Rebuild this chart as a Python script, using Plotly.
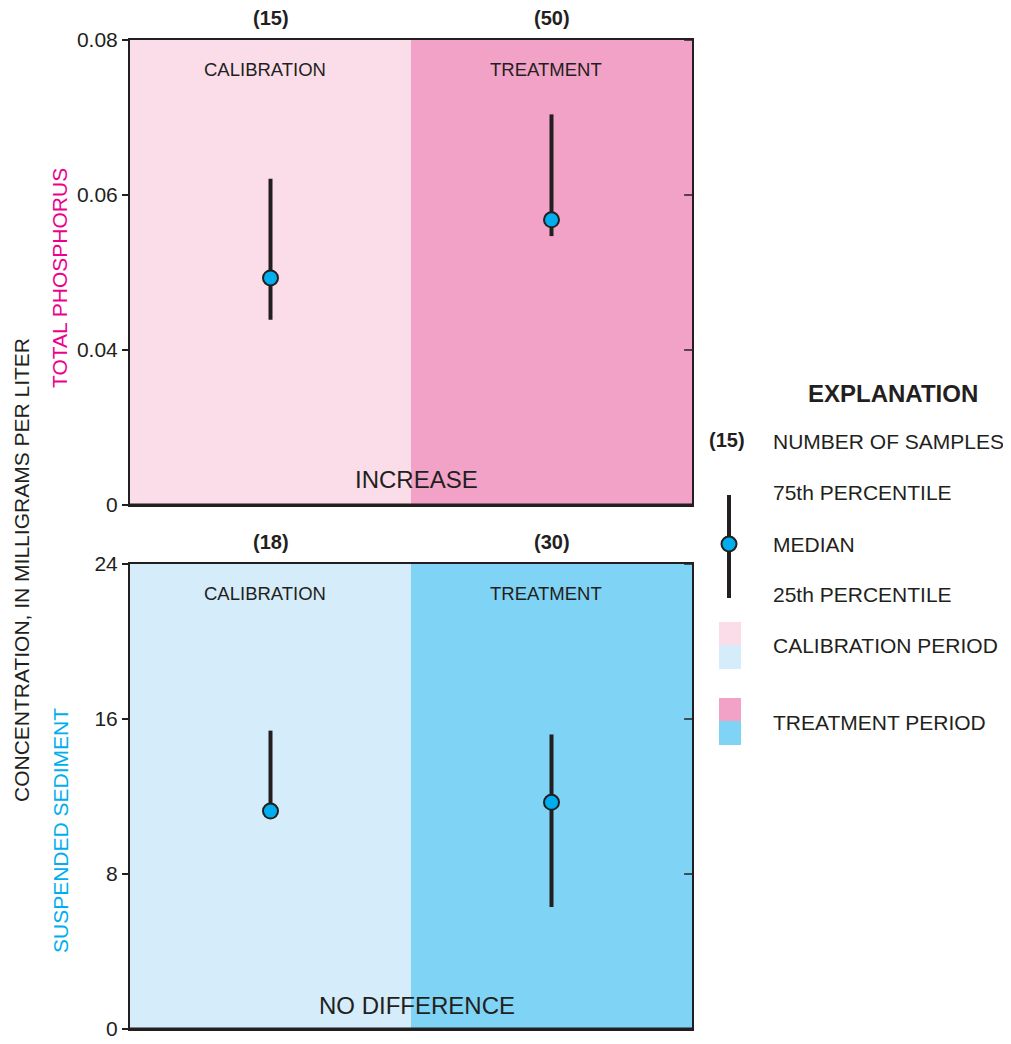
import plotly.graph_objects as go

# ---------------- data ----------------
periods = ["CALIBRATION", "TREATMENT"]
period_x = [0.25, 0.75]

tp_n = [15, 50]
tp_p25 = [0.0439, 0.0547]
tp_median = [0.0493, 0.0568]
tp_p75 = [0.0621, 0.0704]

ss_n = [18, 30]
ss_p25 = [11.25, 6.3]
ss_median = [11.25, 11.7]
ss_p75 = [15.4, 15.2]

tp_tickvals = [0.02, 0.04, 0.06, 0.08]
tp_ticktext = ["0", "0.04", "0.06", "0.08"]
ss_tickvals = [0, 8, 16, 24]
ss_ticktext = ["0", "8", "16", "24"]

tp_result = "INCREASE"
ss_result = "NO DIFFERENCE"

legend_items = ["NUMBER OF SAMPLES", "75th PERCENTILE", "MEDIAN", "25th PERCENTILE",
                "CALIBRATION PERIOD", "TREATMENT PERIOD"]

# ---------------- style ----------------
W, H = 1011, 1044
OFF = 8  # page body margin
DARK = "#231F20"
CYAN = "#00AEEF"
MAGENTA = "#EC008C"
PINK_L, PINK_D = "#FBDDEA", "#F2A2C7"
BLUE_L, BLUE_D = "#D5ECFA", "#7FD3F5"
FONT = "Liberation Sans, Arial, Helvetica, sans-serif"


def px_x(p):
    return (p - OFF) / W


def px_y(p):
    return 1 - (p - OFF) / H


xdom = [px_x(130), px_x(692)]
top_dom = [px_y(505), px_y(40)]
bot_dom = [px_y(1029), px_y(564)]

fig = go.Figure()


def add_panel(xa, ya, p25, med, p75):
    fig.add_trace(go.Scatter(
        x=period_x, y=med, xaxis=xa, yaxis=ya, mode="markers",
        marker=dict(size=15, color=CYAN, line=dict(width=2, color=DARK)),
        error_y=dict(type="data", symmetric=False,
                     array=[a - b for a, b in zip(p75, med)],
                     arrayminus=[b - c for b, c in zip(med, p25)],
                     thickness=4, width=0, color=DARK),
        showlegend=False, hoverinfo="y"))


add_panel("x", "y", tp_p25, tp_median, tp_p75)
add_panel("x2", "y2", ss_p25, ss_median, ss_p75)

axis_common = dict(showline=True, mirror=True, linecolor=DARK, linewidth=2,
                   showgrid=False, zeroline=False, automargin=False)

fig.update_layout(
    width=W, height=H,
    margin=dict(l=0, r=0, t=0, b=0, pad=0),
    paper_bgcolor="white", plot_bgcolor="white",
    font=dict(family=FONT, color=DARK, size=18),
    xaxis=dict(domain=xdom, range=[0, 1], anchor="y", showticklabels=False,
               ticks="", **axis_common),
    yaxis=dict(domain=top_dom, range=[0.02, 0.08], anchor="x",
               tickvals=tp_tickvals, ticktext=tp_ticktext, ticks="outside",
               ticklen=6, tickwidth=1.5, tickcolor=DARK,
               tickfont=dict(size=21, color=DARK), **axis_common),
    xaxis2=dict(domain=xdom, range=[0, 1], anchor="y2", showticklabels=False,
                ticks="", **axis_common),
    yaxis2=dict(domain=bot_dom, range=[0, 24], anchor="x2",
                tickvals=ss_tickvals, ticktext=ss_ticktext, ticks="outside",
                ticklen=6, tickwidth=1.5, tickcolor=DARK,
                tickfont=dict(size=21, color=DARK), **axis_common),
)

shapes = []
annotations = []

# period backgrounds
for xa, ya, cols in [("x", "y", (PINK_L, PINK_D)), ("x2", "y2", (BLUE_L, BLUE_D))]:
    shapes.append(dict(type="rect", xref=xa, yref=ya + " domain", x0=0, x1=0.5,
                       y0=0, y1=1, fillcolor=cols[0], line=dict(width=0), layer="below"))
    shapes.append(dict(type="rect", xref=xa, yref=ya + " domain", x0=0.5, x1=1,
                       y0=0, y1=1, fillcolor=cols[1], line=dict(width=0), layer="below"))

# inward ticks on the right side
for xa, ya, vals in [("x", "y", tp_tickvals), ("x2", "y2", ss_tickvals)]:
    for v in vals:
        shapes.append(dict(type="line", xref=xa + " domain", yref=ya,
                           x0=0.986, x1=1, y0=v, y1=v,
                           line=dict(color=DARK, width=1.5)))

# thicker bottom frame lines
for xa, ya in [("x", "y"), ("x2", "y2")]:
    shapes.append(dict(type="line", xref=xa + " domain", yref=ya + " domain",
                       x0=0, x1=1, y0=0, y1=0, line=dict(color=DARK, width=3)))

# sample counts and period labels
for xa, ya, ns in [("x", "y", tp_n), ("x2", "y2", ss_n)]:
    for xv, n, lab in zip(period_x, ns, periods):
        annotations.append(dict(x=xv, y=1, xref=xa, yref=ya + " domain",
                                text=f"<b>({n})</b>", showarrow=False,
                                yanchor="middle", yshift=22,
                                font=dict(size=20, color=DARK)))
        annotations.append(dict(x=xv - 0.01, y=1, xref=xa, yref=ya + " domain",
                                text=lab, showarrow=False,
                                yanchor="middle", yshift=-29,
                                font=dict(size=18.5, color=DARK)))

annotations.append(dict(x=0.51, y=0, xref="x", yref="y domain", text=tp_result,
                        showarrow=False, yanchor="middle", yshift=26,
                        font=dict(size=24, color=DARK)))
annotations.append(dict(x=0.51, y=0, xref="x2", yref="y2 domain", text=ss_result,
                        showarrow=False, yanchor="middle", yshift=24,
                        font=dict(size=24, color=DARK)))

# y titles
annotations.append(dict(x=px_x(60), y=px_y(278), xref="paper", yref="paper",
                        text="TOTAL PHOSPHORUS", textangle=-90, showarrow=False,
                        xanchor="center", yanchor="middle",
                        font=dict(size=21, color=MAGENTA)))
annotations.append(dict(x=px_x(60), y=px_y(831), xref="paper", yref="paper",
                        text="SUSPENDED SEDIMENT", textangle=-90, showarrow=False,
                        xanchor="center", yanchor="middle",
                        font=dict(size=21, color=CYAN)))
annotations.append(dict(x=px_x(21), y=px_y(570), xref="paper", yref="paper",
                        text="CONCENTRATION, IN MILLIGRAMS PER LITER", textangle=-90,
                        showarrow=False, xanchor="center", yanchor="middle",
                        font=dict(size=21, color=DARK)))

# explanation (legend)
annotations.append(dict(x=px_x(893), y=px_y(393), xref="paper", yref="paper",
                        text="<b>EXPLANATION</b>", showarrow=False,
                        xanchor="center", yanchor="middle",
                        font=dict(size=24, color=DARK)))
annotations.append(dict(x=px_x(727), y=px_y(440), xref="paper", yref="paper",
                        text=f"<b>({tp_n[0]})</b>", showarrow=False,
                        xanchor="center", yanchor="middle",
                        font=dict(size=20, color=DARK)))
legend_y = [441, 492, 544, 594, 645, 722]
for txt, yy in zip(legend_items, legend_y):
    annotations.append(dict(x=px_x(771), y=px_y(yy), xref="paper", yref="paper",
                            text=txt, showarrow=False, xanchor="left",
                            yanchor="middle", font=dict(size=21, color=DARK)))

# legend whisker symbol
shapes.append(dict(type="line", xref="paper", yref="paper",
                   x0=px_x(729), x1=px_x(729), y0=px_y(495), y1=px_y(598),
                   line=dict(color=DARK, width=4)))
shapes.append(dict(type="circle", xref="paper", yref="paper",
                   x0=px_x(721.5), x1=px_x(736.5), y0=px_y(551.5), y1=px_y(536.5),
                   fillcolor=CYAN, line=dict(color=DARK, width=2)))
# legend swatches
for (y0, y1, c) in [(622, 645, PINK_L), (645, 669, BLUE_L),
                    (698, 721, PINK_D), (721, 745, BLUE_D)]:
    shapes.append(dict(type="rect", xref="paper", yref="paper",
                       x0=px_x(719), x1=px_x(741), y0=px_y(y1), y1=px_y(y0),
                       fillcolor=c, line=dict(width=0)))

fig.update_layout(shapes=shapes, annotations=annotations)
fig.write_html("out.html")
